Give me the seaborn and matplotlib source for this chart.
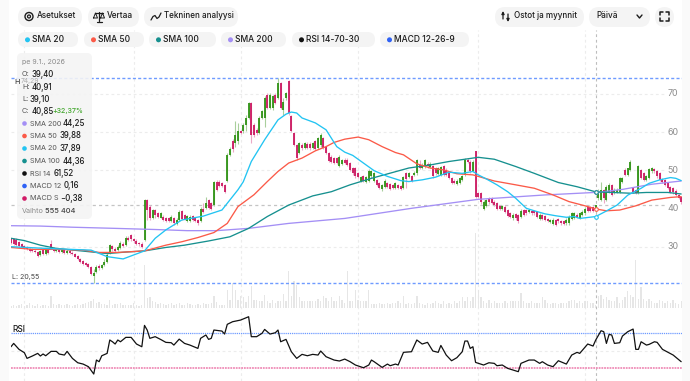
import numpy as np
import pandas as pd
import matplotlib
matplotlib.use("Agg")
import matplotlib.pyplot as plt
from matplotlib.patches import FancyBboxPatch, Rectangle, Circle
from matplotlib.transforms import ScaledTranslation
import seaborn as sns

# daily candles
opens = [31.6,31.7,31.4,30.8,30.3,29.8,29.4,29.1,28.9,28.6,
         28.2,27.3,28.7,27.7,28.9,30.4,29.1,28.5,28.9,28.3,
         28.7,28.0,28.6,28.0,27.7,27.1,26.4,25.8,25.4,25.0,
         24.2,21.9,22.9,24.6,24.1,24.8,25.7,27.9,29.8,29.0,
         28.7,29.2,30.4,30.0,31.9,32.7,31.6,31.1,30.5,30.3,
         31.3,41.8,40.1,37.0,39.2,38.3,37.2,37.5,37.2,37.0,
         36.3,37.0,35.5,36.6,38.9,37.9,36.3,36.4,37.7,37.2,
         36.6,36.2,39.5,39.8,41.8,41.0,40.5,46.6,46.5,46.2,
         45.8,46.7,53.6,57.3,56.7,57.2,59.9,59.8,61.5,63.3,
         67.2,61.5,60.2,59.3,63.3,63.3,69.4,65.9,65.9,69.4,
         68.5,72.5,65.3,68.4,72.9,63.7,59.3,56.1,54.1,56.3,
         55.4,56.5,56.5,55.4,57.2,55.4,56.1,58.0,55.6,54.1,
         53.2,52.8,52.8,50.8,51.3,52.3,52.3,51.5,50.1,50.1,
         48.8,46.9,48.0,46.6,46.9,48.0,46.9,47.1,46.2,44.6,
         45.2,46.2,46.0,45.8,44.9,45.8,45.5,44.9,48.8,47.8,
         48.1,48.4,48.8,51.0,50.2,50.6,51.3,50.4,50.6,50.1,
         48.7,48.4,50.6,49.7,49.0,47.5,46.9,46.0,46.2,47.1,
         48.4,52.3,51.9,49.5,54.7,43.6,43.6,39.6,40.3,42.3,
         42.3,41.4,41.0,40.3,39.6,40.1,39.2,38.3,37.0,38.1,
         37.9,37.5,39.2,39.2,38.8,39.0,39.0,38.6,36.9,37.9,
         37.7,36.8,36.0,35.5,36.6,36.8,36.3,36.3,35.7,35.7,
         36.8,37.2,37.9,37.2,37.9,38.3,39.9,39.9,39.9,39.0,
         42.3,41.8,44.5,41.8,44.0,45.8,43.6,44.0,44.0,46.6,
         49.7,48.4,49.7,44.9,44.5,43.6,49.7,48.8,47.1,47.5,
         49.3,49.9,49.5,48.8,47.3,47.1,46.2,45.3,44.9,44.3,43.2,42.6]
closes = [30.5,30.4,30.1,29.9,29.5,29.1,28.9,28.6,28.4,28.1,
          27.2,28.6,27.8,28.9,28.0,29.2,28.4,28.9,28.2,28.7,
          27.9,28.6,27.9,27.6,27.0,26.3,25.6,25.2,24.9,24.2,
          22.5,22.8,24.4,24.1,24.8,25.7,27.4,30.0,28.9,28.6,
          29.6,30.6,29.8,32.0,31.4,31.5,31.0,30.4,30.2,29.5,
          41.8,39.2,37.0,39.2,37.9,37.5,38.3,36.6,36.3,36.4,
          37.5,35.7,36.6,38.8,36.8,36.8,37.6,37.5,36.6,36.4,
          35.7,39.5,38.6,41.0,39.8,39.4,46.5,44.5,45.6,45.6,
          44.0,53.65,55.2,55.2,58.9,59.8,59.3,61.5,63.3,67.2,
          58.9,58.9,59.3,63.3,65.0,68.5,65.9,69.4,69.0,67.2,
          72.5,65.9,67.5,69.8,64.6,59.8,56.3,52.8,56.7,55.4,
          56.7,55.4,55.4,56.7,55.2,58.0,58.9,55.4,54.1,52.1,
          51.7,51.6,51.5,53.2,52.2,51.5,51.0,49.7,48.8,48.0,
          47.8,47.8,46.9,47.8,49.5,49.3,48.8,45.8,44.9,45.8,
          46.9,45.2,44.7,44.9,46.2,44.9,44.7,47.8,47.3,48.8,
          46.9,49.0,52.2,50.2,51.0,52.2,50.6,51.3,48.0,48.8,
          50.1,50.4,48.4,48.4,47.5,46.4,46.2,46.9,47.5,48.1,
          52.3,51.9,49.3,51.9,42.7,42.7,41.2,41.4,41.8,41.2,
          41.0,40.5,39.5,39.5,40.2,38.8,37.7,37.5,37.9,37.0,
          36.3,39.0,37.9,38.3,39.2,38.3,38.3,37.5,37.9,36.9,
          36.6,36.3,36.6,36.6,35.3,36.2,35.7,35.5,36.6,37.5,
          38.3,38.3,37.5,38.3,38.8,39.6,39.0,39.0,39.0,40.45,
          44.3,44.5,42.3,45.3,45.8,43.1,44.5,44.5,47.5,47.5,
          48.4,50.1,51.9,44.0,43.6,50.6,47.5,47.1,48.1,49.9,
          50.1,49.3,48.0,47.1,46.6,45.8,44.9,44.0,43.8,43.1,42.4,41.4]
highs = [32.0,32.0,31.8,31.0,30.6,30.0,29.7,29.3,29.2,28.9,
         28.5,28.8,29.0,29.2,29.2,31.3,29.5,29.3,29.2,29.0,
         29.0,29.0,28.9,28.4,28.0,27.4,26.7,26.0,25.6,25.3,
         24.5,23.8,24.8,25.0,25.1,26.3,27.9,30.4,30.1,29.6,
         30.0,31.0,30.9,32.3,32.3,33.0,32.0,31.5,30.9,30.7,
         42.0,42.0,40.4,39.6,39.6,38.8,38.7,37.8,37.5,37.3,
         37.9,37.3,37.0,39.1,39.3,38.2,38.0,37.9,38.0,37.5,
         36.9,40.0,41.0,42.7,42.0,41.3,46.8,47.0,47.0,46.5,
         46.0,54.0,55.6,57.8,62.4,62.0,60.2,62.0,64.1,67.5,
         67.5,62.0,60.6,63.8,65.5,69.0,69.8,69.8,69.4,69.8,
         73.89,72.8,68.6,70.2,73.2,64.0,59.6,56.4,57.0,56.7,
         57.0,56.9,56.9,57.0,57.6,58.3,59.3,58.3,55.9,54.4,
         53.5,53.1,53.2,53.6,52.6,52.7,52.7,51.9,50.4,50.4,
         49.1,48.2,48.3,48.1,50.0,49.7,49.2,47.4,46.5,46.1,
         47.4,46.5,46.3,46.1,46.6,46.1,45.8,48.2,49.1,49.2,
         48.4,49.4,52.6,52.4,51.4,52.6,51.7,51.7,50.9,50.4,
         50.5,50.8,50.9,50.1,49.3,47.8,47.2,47.3,47.9,48.5,
         52.7,52.7,52.2,52.3,54.7,43.9,43.9,41.8,42.2,42.6,
         42.6,41.7,41.3,40.6,40.5,40.4,39.5,38.6,38.3,38.4,
         38.2,39.4,39.5,39.5,39.6,39.3,39.3,38.9,38.3,38.2,
         38.0,37.1,36.9,37.0,36.9,37.1,36.6,36.6,37.0,37.9,
         38.7,38.7,38.3,38.7,39.2,40.0,40.2,40.2,40.2,40.51,
         44.7,46.5,44.8,45.7,46.2,46.1,44.9,44.9,47.9,47.9,
         50.1,50.2,52.3,45.2,44.8,51.0,50.0,49.1,48.5,50.3,
         50.5,50.2,49.8,49.1,47.6,47.4,46.5,45.6,45.2,44.6,43.5,42.9]
lows = [30.2,30.1,29.9,29.6,29.2,28.9,28.7,28.3,28.2,27.9,
        27.0,27.1,27.4,27.5,27.7,28.9,28.1,28.2,27.9,27.9,
        27.6,27.7,27.6,27.3,26.8,26.0,25.4,24.9,24.5,24.0,
        22.2,20.15,22.7,23.6,23.8,24.5,25.4,27.6,28.6,28.3,
        28.4,29.0,29.5,29.8,31.1,31.2,30.6,30.1,29.8,29.2,
        31.0,36.6,36.5,36.8,37.2,37.2,37.0,36.3,36.0,36.1,
        36.0,35.4,35.2,36.3,36.5,36.5,36.1,36.1,36.3,36.1,
        35.4,36.0,38.3,39.4,39.5,39.2,40.2,44.2,45.3,45.3,
        43.7,46.5,53.3,54.5,55.6,56.5,59.0,59.3,59.8,62.9,
        56.7,58.4,58.9,59.0,62.9,61.0,65.6,65.6,65.5,66.9,
        68.2,65.6,64.2,68.0,64.2,59.5,55.9,52.4,53.8,55.0,
        55.1,55.1,55.0,55.1,54.9,55.1,55.8,55.1,53.8,51.8,
        51.4,51.3,51.2,50.5,51.0,51.2,50.7,49.4,48.5,47.7,
        47.5,46.6,46.6,46.3,46.6,47.7,46.6,45.5,44.6,44.3,
        44.9,44.9,44.4,44.6,44.6,44.6,44.4,44.6,44.9,47.5,
        46.6,48.1,48.5,49.9,49.9,50.3,50.3,50.1,47.7,48.5,
        48.4,48.1,48.1,48.1,47.2,46.1,45.9,45.7,45.9,46.8,
        48.1,51.5,49.0,49.2,42.4,42.4,40.9,39.3,40.0,40.9,
        40.7,40.2,39.2,39.2,39.3,38.5,37.4,37.2,36.7,36.7,
        35.9,37.2,37.6,38.0,38.5,38.0,38.0,37.2,36.6,36.6,
        36.3,36.0,35.7,35.2,35.0,35.9,35.4,35.2,35.4,35.4,
        36.5,36.9,37.2,36.9,37.6,38.0,38.7,38.7,38.7,38.7,
        41.8,41.5,41.1,41.5,43.7,42.8,43.3,43.7,43.7,46.3,
        48.1,48.0,49.4,43.7,43.3,43.3,47.2,46.8,46.8,47.2,
        49.0,49.0,47.7,46.8,46.3,45.5,44.6,43.7,43.5,42.8,42.1,40.9]
# traded volume, thousands of shares
volumes = [300,450,300,450,600,300,450,750,450,300,
           600,300,450,450,300,1800,600,450,600,450,
           450,600,450,300,450,600,450,600,750,900,
           1050,1350,750,900,600,600,450,1200,450,600,
           600,750,450,450,450,450,750,450,300,450,
           6450,1500,1650,1050,900,600,750,600,450,600,
           750,450,600,750,450,450,750,600,450,450,
           600,450,750,600,600,750,1800,900,450,450,
           450,2700,1200,3750,2700,1200,1800,1650,900,1850,
           3350,1250,1250,1000,1000,1900,1000,750,1250,750,
           1000,1000,2150,1000,5500,1800,4000,3450,1650,1000,
           1000,1000,1000,1000,1000,1400,1000,1800,1500,1000,
           1650,1000,1000,1800,1250,750,5500,1000,1000,2700,
           1200,1000,1000,1100,2750,600,600,600,800,600,
           600,800,600,800,800,1000,800,1750,600,800,
           600,800,1750,800,600,500,800,600,800,1000,
           800,600,1000,600,800,600,1000,800,1000,1650,
           1000,1650,1000,1650,11250,2750,1650,1000,800,1250,
           800,1000,750,800,800,1000,800,1100,1000,1000,
           1000,2250,1000,800,800,1000,800,800,800,1650,
           1250,800,600,800,800,600,800,800,800,1000,
           1250,1250,800,1000,800,1000,1000,800,800,500,
           1750,2000,1400,1650,1250,1000,1000,1650,800,1250,
           1650,2500,2000,1650,7250,1400,3150,1400,1000,1400,
           1000,800,800,1250,1000,800,1000,800,1250,800,600,1000]

# moving averages, (candle number, price)
sma20_day = [0,15,30,36,42,50,54,58,64,72,79,85,87,90,95,100,103,105,107,109,114,118,122,125,128,132,136,141,146,149,154,159,164,169,173,175,178,182,186,189,193,196,200,204,208,211,213,219,223,227,231,236,239,243,247,249,251]
sma20_val = [29.6,29.1,28.7,27.0,26.4,28.5,31.8,34.0,36.6,37.6,39.2,44.5,46.6,51.9,57.6,62.8,64.3,64.85,64.6,63.3,62.0,60.2,55.8,54.35,53.5,51.5,49.5,48.0,46.9,46.65,47.1,47.8,49.1,48.8,49.3,48.4,47.35,45.8,44.0,42.3,39.65,39.0,38.2,37.7,37.3,37.5,37.0,37.49,38.95,40.5,43.1,44.9,46.2,47.1,47.7,47.5,46.9]
sma50_day = [0,8,17,27,33,40,50,58,64,70,76,81,85,91,96,100,104,109,114,118,121,125,130,134,139,144,147,152,157,162,167,173,175,181,189,196,203,209,215,219,223,228,234,240,247,251]
sma50_val = [29.4,28.9,28.9,28.7,28.1,28.1,28.5,30.0,30.9,32.0,33.3,35.7,40.1,43.2,46.65,49.3,51.5,52.8,54.7,55.8,56.9,57.75,58.3,57.6,55.8,54.25,53.65,51.3,50.2,49.7,48.7,48.4,48.0,46.8,45.8,44.9,43.15,41.4,40.3,39.48,39.0,39.2,40.3,41.8,42.5,42.7]
sma100_day = [0,5,11,17,27,36,43,50,58,65,74,82,89,96,104,113,120,127,135,142,149,157,164,171,175,181,189,196,205,212,219,225,232,238,246,251]
sma100_val = [31.8,31.2,30.0,29.15,28.45,27.8,28.2,28.5,29.4,30.0,31.1,32.2,34.4,37.5,40.5,42.9,44.0,45.8,47.5,48.85,50.2,51.0,51.9,52.6,53.0,52.5,50.6,48.8,46.4,45.3,43.96,43.8,43.6,43.8,43.8,43.4]
sma200_day = [0,11,23,39,54,66,77,89,104,125,150,175,200,220,229,240,251]
sma200_val = [35.1,35.0,34.7,34.4,34.1,33.8,33.8,34.4,35.7,37.0,39.65,42.0,43.15,43.85,44.6,45.95,46.8]

rsi_day = [0,1,3,5,6,8,10,11,12,13,15,17,18,20,21,23,25,27,29,31,32,33,34,36,37,38,39,40,41,43,45,47,49,50,51,52,54,56,58,60,61,63,65,67,70,71,73,74,75,76,79,80,81,83,86,89,90,92,94,95,97,99,100,101,103,105,107,109,111,113,115,116,118,121,123,125,127,129,132,134,135,136,139,141,142,144,145,147,150,152,154,156,158,160,161,163,165,167,169,170,171,172,173,174,177,179,181,182,184,186,190,191,194,196,198,199,201,203,205,208,210,212,213,216,218,219,221,222,223,224,225,226,228,229,231,233,234,235,236,238,239,241,242,244,248,251]
rsi_val = [54.3,58.1,51.3,47.5,41.0,43.7,46.7,43.7,46.0,44.0,49.0,49.0,46.0,44.8,49.0,41.0,36.0,34.5,31.5,23.1,39.1,37.2,44.0,46.7,62.0,60.0,57.4,62.0,60.0,65.0,65.0,57.4,54.3,78.7,73.4,63.9,65.8,62.7,59.3,58.9,56.2,63.0,58.1,56.2,52.4,63.9,67.7,62.7,63.9,73.4,72.2,68.8,79.9,82.9,84.8,88.6,65.8,65.8,69.6,74.1,68.8,70.3,73.4,60.0,62.7,48.6,41.0,45.6,44.0,45.6,44.8,49.4,42.9,39.1,38.0,40.2,37.2,33.4,30.3,33.4,39.1,37.2,30.7,34.5,32.6,34.5,33.4,47.9,48.6,62.0,57.4,59.3,49.4,47.9,55.8,44.8,38.3,41.8,48.6,60.8,60.8,52.4,54.3,36.4,33.4,36.0,35.3,32.6,33.4,29.6,25.8,35.3,39.1,39.1,35.3,37.2,33.4,31.5,38.3,34.5,44.8,47.9,46.7,57.4,55.1,62.0,72.6,71.5,58.1,68.4,67.7,58.1,58.9,66.5,71.5,74.5,51.3,51.3,60.0,56.2,57.0,60.0,59.3,51.3,44.8,37.2]

# the readings above were taken 0.4 low against the grid lines
read_shift = 0.4
opens = [v + read_shift for v in opens]
closes = [v + read_shift for v in closes]
highs = [v + read_shift for v in highs]
lows = [v + read_shift for v in lows]
sma20_val = [v + read_shift for v in sma20_val]
sma50_val = [v + read_shift for v in sma50_val]
sma100_val = [v + read_shift for v in sma100_val]
sma200_val = [v + read_shift for v in sma200_val]

price_ticks = [30, 40, 50, 60, 70]
grid_days = [5, 46, 86, 130, 175, 215]
cross_day = 219
cross_close = 40.85
price_high = 74.29
price_low = 20.55

indicator_names = ["SMA 20", "SMA 50", "SMA 100", "SMA 200", "RSI 14-70-30", "MACD 12-26-9"]
tooltip_names = ["SMA 200", "SMA 50", "SMA 20", "SMA 100", "RSI 14", "MACD 12", "MACD S"]
tooltip_values = ["44,25", "39,88", "37,89", "44,36", "61,52", "0,16", "\u22120,38"]

C_SMA20, C_SMA50, C_SMA100, C_SMA200 = "#22c4f2", "#fb5a48", "#16908f", "#a48ff5"
C_UP, C_DOWN = "#2f9214", "#cb1760"
C_UP_W, C_DOWN_W = "#a9cf9c", "#eba9c6"
C_BLUE, C_PINK = "#6f9bff", "#ef8db7"

sns.set_style("white")
plt.rcParams["font.family"] = ["Inter", "DejaVu Sans"]

W, H = 690, 381
fig = plt.figure(figsize=(W / 100, H / 100), dpi=100, facecolor="white")

def box(x0, y0, x1, y1):
    return [x0 / W, 1 - y1 / H, (x1 - x0) / W, (y1 - y0) / H]

X0, X1 = 11, 682
PX_DAY = 2.67
xlim = (0, (X1 - X0) / PX_DAY)

# 40 sits at y=208.5, 3.82 px per euro
y_top, y_bot = 30, 290
ax_bg = fig.add_axes(box(X0, y_top, X1, H))
ax_vol = fig.add_axes(box(X0, 225, X1, 308))
ax_price = fig.add_axes(box(X0, y_top, X1, y_bot))
ax_rsi = fig.add_axes(box(X0, 316, X1, H))

for ax in [ax_bg, ax_vol, ax_price, ax_rsi]:
    ax.patch.set_alpha(0)
    sns.despine(ax=ax, left=True, bottom=True)
    ax.set_xlabel("")
    ax.set_ylabel("")

# full-height dashed verticals
ax_bg.set_ylim(0, 1)
for d in grid_days:
    ax_bg.axvline(d, color="#ececec", lw=0.8, ls=(0, (2.5, 2.5)))
ax_bg.axvline(cross_day, color="#bdbdbd", lw=0.8, ls=(0, (2.5, 2.5)))
ax_bg.set_xlim(xlim)
ax_bg.set_xticks([])
ax_bg.set_yticks([])

# volume bars
vol_df = pd.DataFrame({"day": np.arange(len(volumes)), "volume": volumes})
sns.barplot(data=vol_df, x="day", y="volume", orient="x", native_scale=True, color="#e6e6e6",
            saturation=1, width=0.5, linewidth=0, ax=ax_vol)
ax_vol.set_xlim(xlim)
ax_vol.set_ylim(0, 12450)
ax_vol.set_xticks([])
ax_vol.set_yticks([])
ax_vol.set_xlabel("")
ax_vol.set_ylabel("")

# price panel
ax_price.set_ylim(40 - (y_bot - 208.5) / 3.82, 40 + (208.5 - y_top) / 3.82)
ax_price.set_xlim(xlim)
grid_end = (665 - X0) / (X1 - X0)
for p in [30, 50, 60, 70]:
    ax_price.axhline(p, xmax=grid_end, color="#ececec", lw=0.8, ls=(0, (2.5, 2.5)))
ax_price.axhline(cross_close, xmax=grid_end, color="#c4c4c4", lw=0.9, ls=(0, (2.5, 2.5)))
ax_price.axhline(price_high, color=C_BLUE, lw=1.0, ls=(0, (2.2, 1.6)))
ax_price.axhline(price_low, color=C_BLUE, lw=1.0, ls=(0, (2.2, 1.6)))

days = np.arange(len(opens))
o, c, hi, lo = map(np.array, (opens, closes, highs, lows))
up = c >= o
ax_price.vlines(days[up], lo[up], hi[up], color=C_UP_W, lw=0.8, zorder=3)
ax_price.vlines(days[~up], lo[~up], hi[~up], color=C_DOWN_W, lw=0.8, zorder=3)
ax_price.vlines(days[up], o[up], c[up], color=C_UP, lw=1.3, zorder=4)
ax_price.vlines(days[~up], c[~up], o[~up], color=C_DOWN, lw=1.3, zorder=4)

for xs, ys, col in [(sma200_day, sma200_val, C_SMA200), (sma100_day, sma100_val, C_SMA100),
                    (sma50_day, sma50_val, C_SMA50), (sma20_day, sma20_val, C_SMA20)]:
    sns.lineplot(x=xs, y=ys, color=col, lw=0.95, estimator=None, sort=False,
                 legend=False, ax=ax_price, zorder=5)
    ax_price.plot([cross_day], [np.interp(cross_day, xs, ys)], "o", ms=2.6, mfc="white",
                  mec=col, mew=0.8, zorder=6)

ax_price.set_xlabel("")
ax_price.set_ylabel("")
ax_price.set_xticks([])
ax_price.yaxis.tick_right()
ax_price.set_yticks(price_ticks)
ax_price.tick_params(axis="y", length=0, pad=-10.5, labelsize=6.4, labelcolor="#8c8c8c")
for tick in ax_price.get_yticklabels():
    tick.set_transform(tick.get_transform() + ScaledTranslation(0, 1 / 100, fig.dpi_scale_trans))

# RSI panel: 70 at y=333, 30 at y=368
ax_rsi.set_ylim(70 - (H - 333) / 0.875, 70 + (333 - 316) / 0.875)
ax_rsi.set_xlim(xlim)
ax_rsi.axhline(50, color="#ececec", lw=0.8, ls=(0, (2.5, 2.5)))
ax_rsi.axhline(70, color=C_BLUE, lw=0.9, ls=(0, (1, 0.7)))
ax_rsi.axhline(30, color=C_PINK, lw=1.3, ls=(0, (1, 0.5)))
sns.lineplot(x=rsi_day, y=rsi_val, color="#111111", lw=0.9, estimator=None, sort=False,
             legend=False, ax=ax_rsi, zorder=5)
ax_rsi.set_xlabel("")
ax_rsi.set_ylabel("")
ax_rsi.set_xticks([])
ax_rsi.set_yticks([])

# interface layer, in pixels
ui = fig.add_axes([0, 0, 1, 1], zorder=10)
ui.set_xlim(0, W)
ui.set_ylim(H, 0)
ui.axis("off")
ui.patch.set_alpha(0)

ui.add_patch(Rectangle((0, 0), 9, H, fc="#fafafa", ec="none"))
ui.add_patch(Rectangle((682, 0), 8, H, fc="#fafafa", ec="none"))

def pill(x0, y0, x1, y1, r=None, fc="#f4f4f4", alpha=1):
    r = (y1 - y0) / 2 if r is None else r
    ui.add_patch(FancyBboxPatch((x0, y0), x1 - x0, y1 - y0, boxstyle=f"round,pad=0,rounding_size={r}",
                                fc=fc, ec="none", alpha=alpha))

def label(x, y, s, size=6.5, color="#1c1c1c", weight=500, ha="left"):
    ui.text(x, y, s, fontsize=size, color=color, fontweight=weight, ha=ha, va="center")

INK = "#1c1c1c"
pill(18, 7, 82, 27)
pill(88, 7, 139, 27)
pill(144, 7, 238, 27)
pill(495, 7, 584, 27)
pill(589, 7, 650, 27)
pill(655, 7, 674, 27)
label(37, 16, "Asetukset", 5.9)
label(107, 16, "Vertaa", 5.9)
label(164, 16, "Tekninen analyysi", 5.8)
label(514, 16, "Ostot ja myynnit", 5.8)
label(596, 16, "Päivä", 5.9)

# gear
ui.add_patch(Circle((29, 16.5), 4, fc="none", ec=INK, lw=1.0))
ui.add_patch(Circle((29, 16.5), 1.5, fc="none", ec=INK, lw=0.9))
# scales
ui.plot([99, 99], [12, 21], color=INK, lw=0.9)
ui.plot([95, 103], [13, 13], color=INK, lw=0.9)
ui.plot([96.5, 101.5], [21.5, 21.5], color=INK, lw=0.9)
ui.plot([93.5, 95.5, 97.5, 93.5], [18, 13, 18, 18], color=INK, lw=0.7)
ui.plot([100.5, 102.5, 104.5, 100.5], [18, 13, 18, 18], color=INK, lw=0.7)
# little wave
wave_x = np.array([151, 153, 155, 157, 159, 161])
wave_y = np.array([20, 16.5, 15.5, 18.5, 17, 13])
ui.plot(wave_x, wave_y, color=INK, lw=0.9)
# up and down arrows
ui.annotate("", (503, 11), (503, 19), arrowprops=dict(arrowstyle="-|>", color=INK, lw=0.9, mutation_scale=4, shrinkA=0, shrinkB=0))
ui.annotate("", (508, 22), (508, 14), arrowprops=dict(arrowstyle="-|>", color=INK, lw=0.9, mutation_scale=4, shrinkA=0, shrinkB=0))
# chevron
ui.plot([637, 639.5, 642], [15, 18, 15], color=INK, lw=1.0)
# fullscreen corners
for cx, cy, dx, dy in [(660, 12, 1, 1), (669, 12, -1, 1), (660, 21, 1, -1), (669, 21, -1, -1)]:
    ui.plot([cx + 3 * dx, cx, cx], [cy, cy, cy + 3 * dy], color=INK, lw=1.1)

ind_pills = [(18, 78), (84, 144), (149, 216), (221, 286), (292, 375), (380, 469)]
ind_cols = [C_SMA20, C_SMA50, C_SMA100, C_SMA200, "#111111", "#2f62f5"]
for (x0, x1), name, col in zip(ind_pills, indicator_names, ind_cols):
    pill(x0, 32, x1, 47)
    ui.add_patch(Circle((x0 + 9.5, 39.8), 2.5, fc=col, ec="none"))
    label(x0 + 14, 39.5, name, 6.1)

# tooltip card
label(14, 81.5, "H", 5.2, "#444444")
label(21, 80.5, "74,29", 4.8, "#b5b5b5")
pill(17, 53, 92, 219, r=5, alpha=0.9)
label(22, 62, "pe 9.1., 2026", 5.1, "#8b8b8b", 400)
label(22, 74.5, "O:", 5.3, "#555555", 400); label(32, 74.5, "39,40", 5.7)
label(22, 87, "H:", 5.3, "#555555", 400); label(32, 87, "40,91", 5.7)
label(22, 99, "L:", 5.3, "#555555", 400); label(30, 99, "39,10", 5.7)
label(22, 111, "C:", 5.3, "#555555", 400); label(31.5, 111, "40,85", 5.7)
label(52.5, 111, "+32,37%", 5.1, "#3fa52a", 500)

tip_cols = [C_SMA200, C_SMA50, C_SMA20, C_SMA100, "#111111", "#2f62f5", "#d11a66"]
tip_y = [123.5, 136, 148.5, 161, 173.5, 186, 198.5]
tip_val_x = [63, 59, 59, 63, 54, 64, 60]
for name, val, col, y, vx in zip(tooltip_names, tooltip_values, tip_cols, tip_y, tip_val_x):
    ui.add_patch(Circle((24.5, y), 2.3, fc=col, ec="none"))
    label(29.5, y, name, 5.2, "#555555", 400)
    label(vx, y, val, 5.7)
label(22, 211, "Vaihto", 5.2, "#8b8b8b", 400)
label(45, 211, "555 404", 5.4, "#444444")

label(12, 277, "L: 20,55", 5.1, "#444444", 400)
label(12, 329, "RSI", 6.0, INK)

fig.savefig("out.png", dpi=100)
